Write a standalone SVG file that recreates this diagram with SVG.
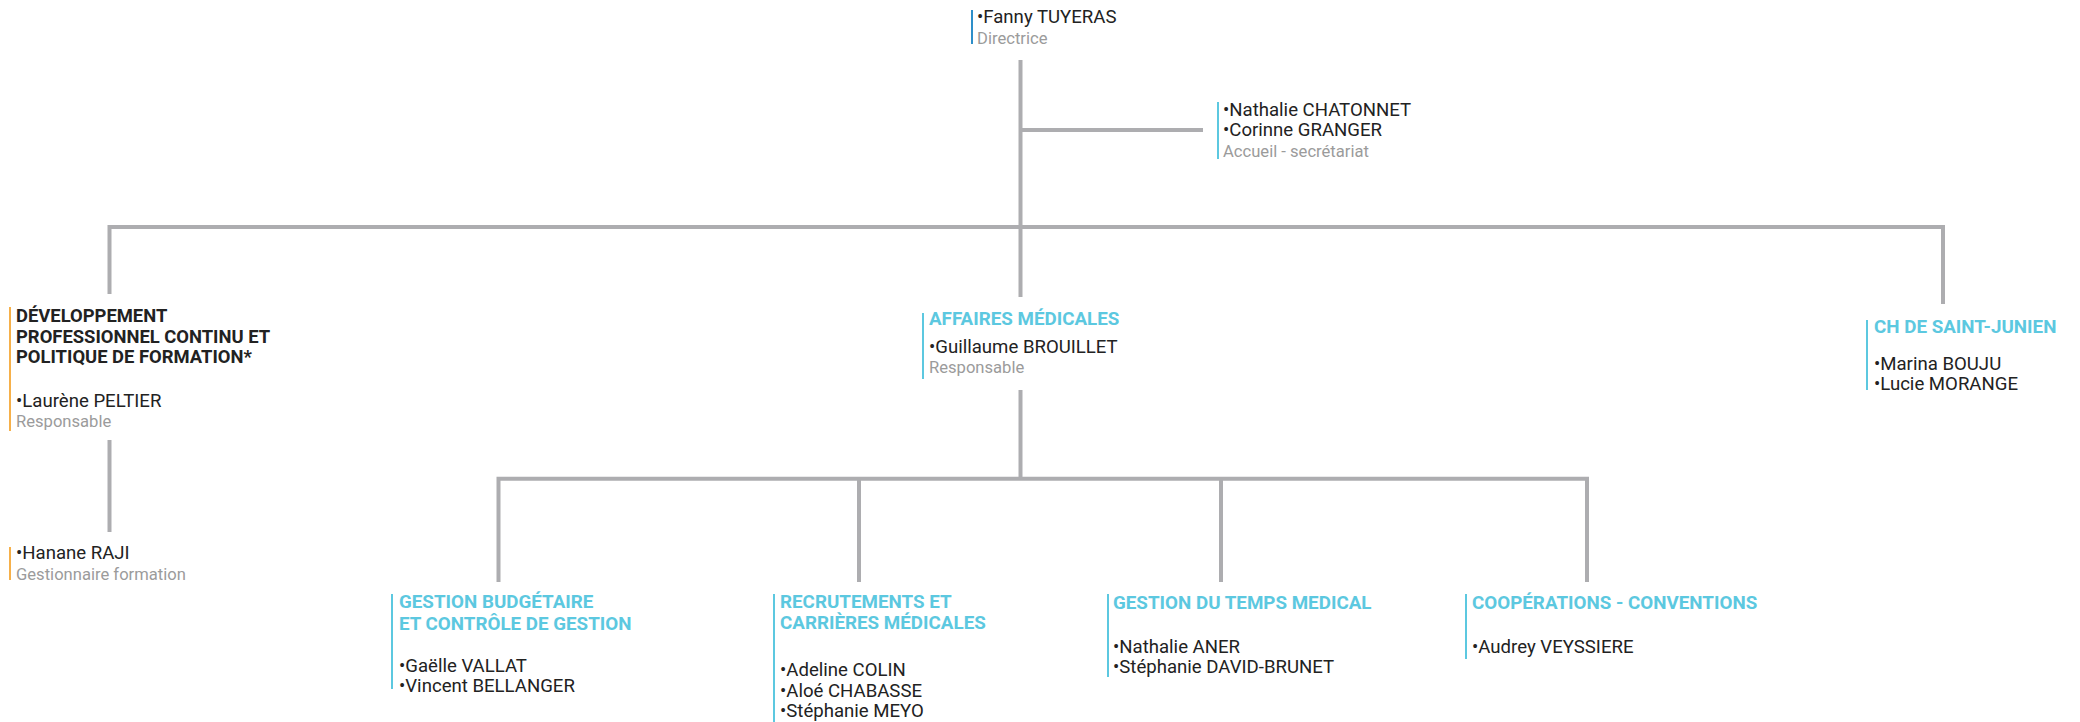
<svg xmlns="http://www.w3.org/2000/svg" width="2080" height="722" viewBox="0 0 2080 722">
<style>
text{font-family:Roboto,"Liberation Sans",sans-serif;font-size:18.6px;fill:#222}
.sub{fill:#9b9b9b;font-size:16.6px}
.hd{font-weight:bold;fill:#5cc8e0;font-size:18.8px}
.hdk{font-weight:bold;fill:#222;font-size:18.4px}
.ln{fill:none;stroke:#adadb0;stroke-width:4;stroke-linejoin:miter;stroke-linecap:butt}
.bb{fill:#5cc8e0}
.bd{fill:#2e8fc9}
.bo{fill:#f6b04a}
</style>
<rect width="2080" height="722" fill="#fff"/>
<g id="connectors">
<path class="ln" d="M1020.5 60 V297"/>
<path class="ln" d="M1020.5 130 H1203"/>
<path class="ln" d="M109.5 294 V227 H1943 V304"/>
<path class="ln" d="M109.5 440 V532"/>
<path class="ln" d="M1020.5 390 V478.7"/>
<path class="ln" d="M498.5 582 V478.7 H1587 V582"/>
<path class="ln" d="M859 478.7 V582"/>
<path class="ln" d="M1221 478.7 V582"/>
</g>
<g id="directrice">
<rect class="bd" x="971" y="10" width="2" height="34"/>
<text x="977" y="23">•Fanny TUYERAS</text>
<text class="sub" x="977" y="44">Directrice</text>
</g>
<g id="accueil">
<rect class="bb" x="1217" y="102" width="2" height="57"/>
<text x="1223" y="116">•Nathalie CHATONNET</text>
<text x="1223" y="136">•Corinne GRANGER</text>
<text class="sub" x="1223" y="157">Accueil - secrétariat</text>
</g>
<g id="dpc">
<rect class="bo" x="9" y="307" width="2" height="124"/>
<text class="hdk" x="16" y="322">DÉVELOPPEMENT</text>
<text class="hdk" x="16" y="343">PROFESSIONNEL CONTINU ET</text>
<text class="hdk" x="16" y="363">POLITIQUE DE FORMATION*</text>
<text x="16" y="407">•Laurène PELTIER</text>
<text class="sub" x="16" y="427">Responsable</text>
</g>
<g id="gestionnaire">
<rect class="bo" x="9" y="547" width="2" height="33"/>
<text x="16" y="559">•Hanane RAJI</text>
<text class="sub" x="16" y="580">Gestionnaire formation</text>
</g>
<g id="affaires">
<rect class="bb" x="922" y="313" width="2" height="66"/>
<text class="hd" x="929" y="325">AFFAIRES MÉDICALES</text>
<text x="929" y="353">•Guillaume BROUILLET</text>
<text class="sub" x="929" y="373">Responsable</text>
</g>
<g id="saintjunien">
<rect class="bb" x="1866" y="320" width="2" height="70"/>
<text class="hd" x="1874" y="333">CH DE SAINT-JUNIEN</text>
<text x="1874" y="370">•Marina BOUJU</text>
<text x="1874" y="390">•Lucie MORANGE</text>
</g>
<g id="budget">
<rect class="bb" x="391" y="594" width="2" height="95"/>
<text class="hd" x="399" y="608">GESTION BUDGÉTAIRE</text>
<text class="hd" x="399" y="630">ET CONTRÔLE DE GESTION</text>
<text x="399" y="672">•Gaëlle VALLAT</text>
<text x="399" y="692">•Vincent BELLANGER</text>
</g>
<g id="recrutements">
<rect class="bb" x="773" y="594" width="2" height="128"/>
<text class="hd" x="780" y="608">RECRUTEMENTS ET</text>
<text class="hd" x="780" y="629">CARRIÈRES MÉDICALES</text>
<text x="780" y="676">•Adeline COLIN</text>
<text x="780" y="697">•Aloé CHABASSE</text>
<text x="780" y="717">•Stéphanie MEYO</text>
</g>
<g id="temps">
<rect class="bb" x="1107" y="594" width="2" height="83"/>
<text class="hd" x="1113" y="609">GESTION DU TEMPS MEDICAL</text>
<text x="1113" y="653">•Nathalie ANER</text>
<text x="1113" y="673">•Stéphanie DAVID-BRUNET</text>
</g>
<g id="cooperations">
<rect class="bb" x="1465" y="594" width="2" height="65"/>
<text class="hd" x="1472" y="609">COOPÉRATIONS - CONVENTIONS</text>
<text x="1472" y="653">•Audrey VEYSSIERE</text>
</g>
</svg>
